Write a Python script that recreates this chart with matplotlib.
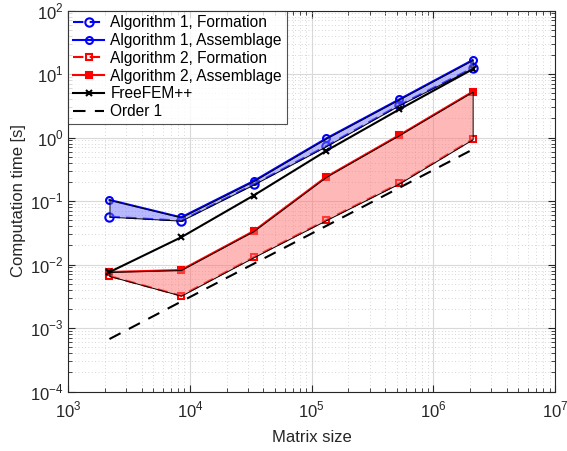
import numpy as np
import matplotlib
matplotlib.use("Agg")
import matplotlib.pyplot as plt
from matplotlib.ticker import FixedLocator, NullFormatter

plt.rcParams['font.family'] = ['Liberation Sans', 'DejaVu Sans']
plt.rcParams['mathtext.fontset'] = 'custom'
plt.rcParams['mathtext.rm'] = 'Liberation Sans'

matrix_size = [2178, 8450, 33282, 132098, 526338, 2101250]
alg1_formation = [0.0566, 0.049, 0.182, 0.734, 3.25, 12.4]
alg1_assemblage = [0.104, 0.0553, 0.206, 0.97, 4.0, 16.6]
alg2_formation = [0.00659, 0.00323, 0.0130, 0.0502, 0.190, 0.938]
alg2_assemblage = [0.00762, 0.00818, 0.0335, 0.241, 1.094, 5.26]
freefem = [0.0076, 0.0268, 0.122, 0.62, 2.78, 11.9]
order1_coef = 3.08e-7
x_ticks = [1e3, 1e4, 1e5, 1e6, 1e7]
y_ticks = [1e-4, 1e-3, 1e-2, 1e-1, 1e0, 1e1, 1e2]

x = np.array(matrix_size, dtype=float)

fig = plt.figure(figsize=(5.67, 4.51), dpi=100)
ax = fig.add_axes([0.1205, 0.1319, 0.979 - 0.1205, 0.9767 - 0.1319])

ax.plot(x, alg1_formation, '--o', color='#0000ff', lw=1.5, ms=6, mfc='none', mew=1.5,
        dashes=(5, 3), label='Algorithm 1, Formation', zorder=3)
ax.plot(x, alg1_assemblage, '-o', color='#0000ff', lw=1.5, ms=5, mfc='none', mew=1.5,
        label='Algorithm 1, Assemblage', zorder=3)
ax.plot(x, alg2_formation, '--s', color='#ff0000', lw=1.5, ms=5, mfc='none', mew=1.5,
        dashes=(5, 3), label='Algorithm 2, Formation', zorder=3)
ax.plot(x, alg2_assemblage, '-s', color='#ff0000', lw=1.5, ms=5, mfc='#ff0000', mew=1.5,
        label='Algorithm 2, Assemblage', zorder=3)
ax.plot(x, freefem, '-x', color='black', lw=1.5, ms=4, mew=1.5,
        label='FreeFEM++', zorder=3)
ax.plot(x, order1_coef * x, '--', color='black', lw=1.5, dashes=(6, 4.5),
        label='Order 1', zorder=3)

ax.fill_between(x, alg1_formation, alg1_assemblage, facecolor=(0.45, 0.45, 1.0, 0.5),
                edgecolor='black', lw=0.7, zorder=4)
ax.fill_between(x, alg2_formation, alg2_assemblage, facecolor=(1.0, 0.45, 0.45, 0.5),
                edgecolor='black', lw=0.7, zorder=4)

ax.set_xscale('log')
ax.set_yscale('log')
ax.set_xlim(1e3, 1e7)
ax.set_ylim(1e-4, 1e2)

ax.xaxis.set_major_locator(FixedLocator(x_ticks))
ax.yaxis.set_major_locator(FixedLocator(y_ticks))
ax.set_xticklabels([r'$10^{%d}$' % int(round(np.log10(v))) for v in x_ticks])
ax.set_yticklabels([r'$10^{%d}$' % int(round(np.log10(v))) for v in y_ticks])
xminor = [m * 10.0 ** e for e in range(3, 7) for m in range(2, 10)]
yminor = [m * 10.0 ** e for e in range(-4, 2) for m in range(2, 10)]
ax.xaxis.set_minor_locator(FixedLocator(xminor))
ax.yaxis.set_minor_locator(FixedLocator(yminor))
ax.xaxis.set_minor_formatter(NullFormatter())
ax.yaxis.set_minor_formatter(NullFormatter())

ax.grid(True, which='major', color='#d9d9d9', lw=0.8, ls='-')
ax.grid(True, which='minor', color='#c8c8c8', lw=0.6, ls=(0, (1, 3)))
ax.set_axisbelow(True)

ax.tick_params(which='both', direction='in', top=True, right=True, labelsize=12, colors='#262626')
ax.tick_params(which='major', length=5, width=0.8)
ax.tick_params(which='minor', length=3, width=0.6)
ax.tick_params(axis='x', pad=6)
for s in ax.spines.values():
    s.set_color('#262626')
    s.set_linewidth(0.8)

ax.set_xlabel('Matrix size', fontsize=12, color='#262626', labelpad=7)
ax.set_ylabel('Computation time [s]', fontsize=12, color='#262626', labelpad=3)

leg = ax.legend(loc='upper left', fontsize=11.2, frameon=True, fancybox=False,
                edgecolor='#262626', borderaxespad=0.0, handlelength=2.0,
                handletextpad=0.4, labelspacing=0.18, borderpad=0.3)
leg.get_frame().set_linewidth(0.8)
leg.set_zorder(10)

fig.savefig('out.png', dpi=100)
